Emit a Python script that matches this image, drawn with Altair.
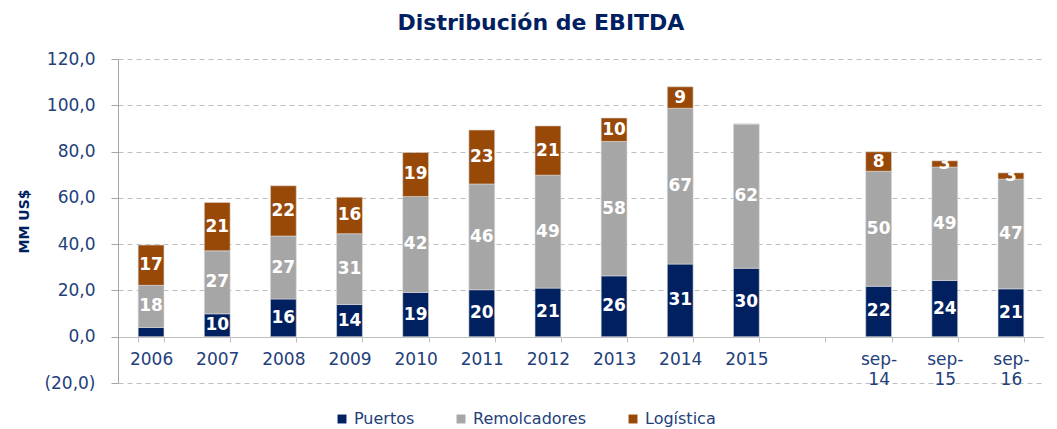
import altair as alt
import pandas as pd

categories = ["2006", "2007", "2008", "2009", "2010", "2011", "2012", "2013",
              "2014", "2015", " ", "sep-14", "sep-15", "sep-16"]
data_cats = ["2006", "2007", "2008", "2009", "2010", "2011", "2012", "2013",
             "2014", "2015", "sep-14", "sep-15", "sep-16"]
series = ["Puertos", "Remolcadores", "Logística"]
puertos = [4.0, 9.9, 16.3, 13.9, 19.1, 20.3, 21.0, 26.3, 31.4, 29.6, 21.8, 24.3, 20.7]
remolcadores = [18.2, 27.2, 27.2, 30.6, 41.5, 45.7, 48.8, 58.1, 67.3, 62.3, 49.7, 49.0, 47.4]
logistica = [17.4, 20.9, 21.7, 15.8, 19.0, 23.3, 21.3, 10.1, 9.3, 0.0, 8.4, 2.7, 2.7]
colors = ["#002060", "#a6a6a6", "#984807"]

rows = []
for vals, s, k in [(puertos, series[0], 0), (remolcadores, series[1], 1), (logistica, series[2], 2)]:
    for c, v in zip(data_cats, vals):
        show = not ((c == "2006" and s == "Puertos") or v == 0)
        rows.append({"cat": c, "serie": s, "ord": k, "value": v,
                     "lbl": f"{v:.0f}" if show else ""})
df = pd.DataFrame(rows)

FONT = "DejaVu Sans"
LBL = "#23407a"

base = alt.Chart(df).transform_stack(
    stack="value", groupby=["cat"], sort=[alt.SortField("ord")], as_=["y0", "y1"]
).transform_calculate(mid="(datum.y0 + datum.y1) / 2")

x = alt.X("cat:N", scale=alt.Scale(domain=categories, paddingInner=0.61, paddingOuter=0.305),
          axis=alt.Axis(title=None, labelAngle=0, offset=-46, tickBand="extent",
                        domainColor="#bfbfbf", tickColor="#bfbfbf", tickSize=5,
                        labelFontSize=17, labelColor=LBL, labelFont=FONT, labelPadding=9,
                        labelLineHeight=20,
                        labelExpr="indexof(datum.label, 'sep') == 0 ? ['sep-', substring(datum.label, 4)] : datum.label"))

bars = base.mark_bar(stroke="#d9d9d9", strokeWidth=0.6).encode(
    x=x,
    y=alt.Y("y0:Q", scale=alt.Scale(domain=[-20, 120], nice=False),
            axis=alt.Axis(title="MM US$", values=list(range(-20, 121, 20)),
                          labelExpr="datum.value < 0 ? '(' + replace(format(abs(datum.value), '.1f'), '.', ',') + ')' : replace(format(datum.value, '.1f'), '.', ',')",
                          labelFontSize=17, labelColor=LBL, labelFont=FONT, labelPadding=16,
                          tickSize=7, tickColor="#a6a6a6", domainColor="#a6a6a6",
                          grid=True, gridDash=[5, 4], gridColor="#bfbfbf",
                          titleFont=FONT, titleFontSize=14, titleColor="#002060",
                          titleFontWeight="bold", titlePadding=12)),
    y2="y1:Q",
    color=alt.Color("serie:N", scale=alt.Scale(domain=series, range=colors),
                    sort=series,
                    legend=alt.Legend(title=None, orient="none", direction="horizontal",
                                      legendX=216, legendY=352,
                                      symbolType="square", symbolSize=80,
                                      labelFontSize=16, labelColor=LBL, labelFont=FONT,
                                      columnPadding=38, symbolStrokeWidth=0)),
)

texts = base.mark_text(color="white", fontWeight="bold", fontSize=17, font=FONT,
                       baseline="middle").encode(
    x=alt.X("cat:N", scale=alt.Scale(domain=categories)),
    y=alt.Y("mid:Q"),
    text="lbl:N",
)

chart = alt.layer(bars, texts).properties(
    width=926, height=324,
    padding={"left": 9, "right": 0, "top": 4, "bottom": 0},
    title=alt.TitleParams("Distribución de EBITDA", font=FONT, fontSize=22,
                          fontWeight="bold", color="#002060", offset=15,
                          frame="bounds", anchor="middle", dx=10),
).configure_view(stroke=None)

chart.save("out.html", embed_options={"renderer": "svg", "actions": False})
